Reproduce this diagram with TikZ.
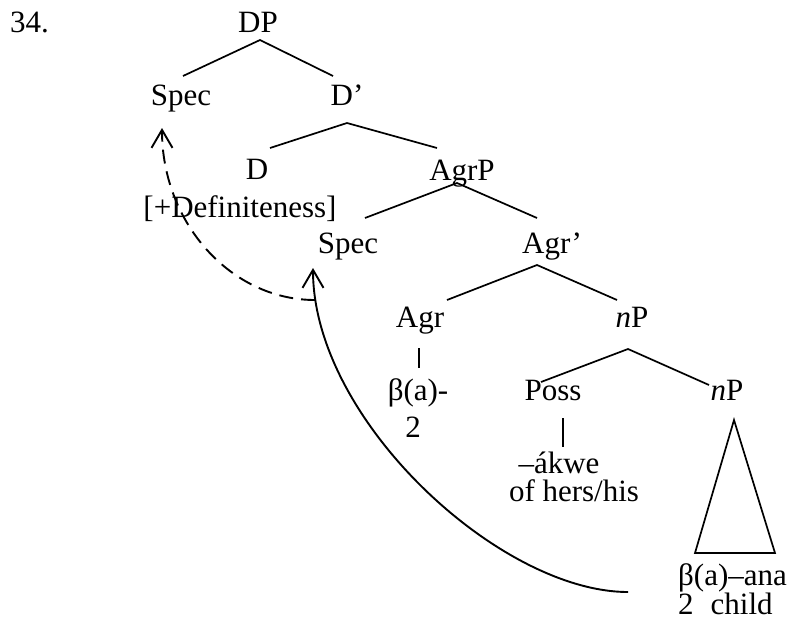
\documentclass[tikz,border=0pt]{standalone}
\usepackage{fontspec}
\setmainfont{Liberation Serif}
\usetikzlibrary{calc,arrows.meta}
\begin{document}
\begin{tikzpicture}[x=1pt,y=-1pt,
  lbl/.style={inner sep=0pt,anchor=base,font=\fontsize{31}{37}\selectfont},
  branch/.style={line width=1.7pt},
  movearrow/.style={line width=1.9pt,-{Straight Barb[length=18pt,width=21pt,line width=1.9pt]}}]
\useasboundingbox (0,0) rectangle (792,626);

% example number
\node[lbl,anchor=base west] (num) at (10,33) {34.};

% node labels
\node[lbl] (DP)    at (258,33)  {DP};
\node[lbl] (Spec1) at (181,105) {Spec};
\node[lbl] (Dbar)  at (347,105) {D’};
\node[lbl] (D)     at (257,179) {D};
\node[lbl] (Def)   at (240,217) {[+Definiteness]};
\node[lbl] (AgrP)  at (462,180) {AgrP};
\node[lbl] (Spec2) at (348,253) {Spec};
\node[lbl] (Agrbar) at (552,253) {Agr’};
\node[lbl] (Agr)   at (420,327) {Agr};
\node[lbl] (nP1)   at (632,327) {\textit{n}P};
\node[lbl] (beta)  at (418,400) {β(a)-};
\node[lbl] (two)   at (413,437) {2};
\node[lbl] (Poss)  at (553,400) {Poss};
\node[lbl] (akwe)  at (559,473) {–ákwe};
\node[lbl] (gloss) at (574,501) {of hers/his};
\node[lbl] (nP2)   at (727,400) {\textit{n}P};
\node[lbl,anchor=base west] (ana)   at (678,585) {β(a)–ana};
\node[lbl,anchor=base west] (child) at (678,614) {2\hspace{17pt}child};

% branches
\draw[branch] ($(Spec1.base)+(2,-29)$) -- ($(DP.base)+(2,7)$) -- ($(Dbar.base)+(-14,-29)$);
\draw[branch] ($(D.base)+(13,-31)$) -- ($(Dbar.base)+(0,18)$) -- ($(AgrP.base)+(-25,-32)$);
\draw[branch] ($(Spec2.base)+(17,-35)$) -- ($(AgrP.base)+(-5,3)$) -- ($(Agrbar.base)+(-15,-35)$);
\draw[branch] ($(Agr.base)+(27,-27)$) -- ($(Agrbar.base)+(-15,12)$) -- ($(nP1.base)+(-15,-27)$);
\draw[branch] ($(Poss.base)+(-12,-18)$) -- ($(nP1.base)+(-4,22)$) -- ($(nP2.base)+(-18,-15)$);
\draw[branch] ($(Agr.base)+(-1,21)$) -- ($(Agr.base)+(-1,41)$);
\draw[branch] ($(Poss.base)+(10,18)$) -- ($(Poss.base)+(10,47)$);
\draw[branch] ($(nP2.base)+(7,20)$) -- ($(ana.base west)+(97,-32)$) -- ($(ana.base west)+(17,-32)$) -- cycle;

% movement arrows
\draw[movearrow] ($(ana.base west)+(-50,7)$) .. controls +(-128,0) and +(0,152) .. ($(Spec2.base)+(-35,15)$);
\draw[movearrow,dash pattern=on 14pt off 8pt] ($(Spec2.base)+(-33,47)$) .. controls +(-84,0) and +(0,95) .. ($(Spec1.base)+(-19,23)$);
\end{tikzpicture}
\end{document}
